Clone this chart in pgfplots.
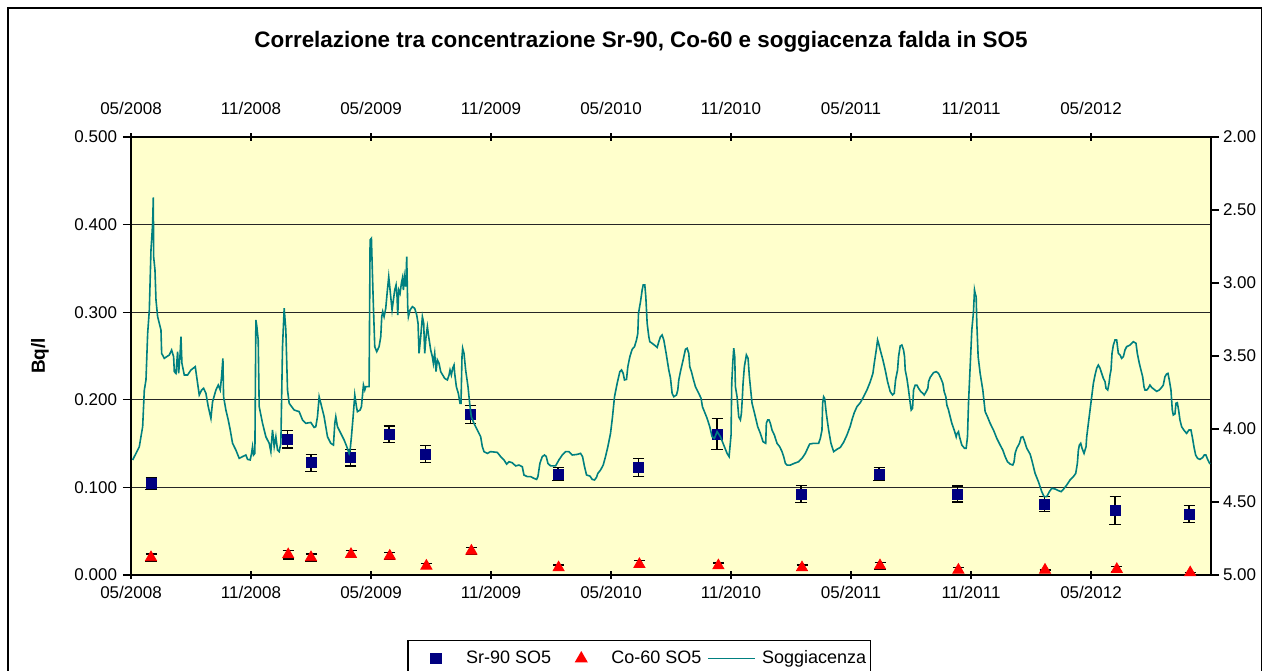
\documentclass[border=0pt]{standalone}
\usepackage{fontspec}
\setmainfont{Liberation Sans}
\usepackage{pgfplots}
\pgfplotsset{compat=1.18}
\usepackage{pgfplotstable}

\definecolor{bgyellow}{HTML}{FFFFCC}
\definecolor{srblue}{HTML}{000080}
\definecolor{cored}{HTML}{FF0000}
\definecolor{lineteal}{HTML}{008080}

% x = months since 05/2008
\pgfplotstableread{
x y e
1.00 0.1040 0.0068
7.83 0.1550 0.0100
9.00 0.1280 0.0095
10.99 0.1340 0.0095
12.90 0.1606 0.0095
14.73 0.1380 0.0095
16.97 0.1834 0.0105
21.35 0.1153 0.0076
25.39 0.1225 0.0105
29.30 0.1610 0.0180
33.50 0.0925 0.0100
37.40 0.1153 0.0076
41.34 0.0925 0.0091
45.69 0.0810 0.0086
49.20 0.0734 0.0160
52.90 0.0696 0.0095
}\srtable

\pgfplotstableread{
x y e
1.00 0.0200 0.0040
7.86 0.0233 0.0050
9.00 0.0200 0.0040
11.00 0.0236 0.0040
12.94 0.0217 0.0040
14.77 0.0103 0.0030
17.02 0.0274 0.0040
21.38 0.0084 0.0030
25.42 0.0122 0.0040
29.37 0.0107 0.0030
33.55 0.0084 0.0030
37.45 0.0107 0.0040
41.37 0.0057 0.0030
45.70 0.0057 0.0000
49.29 0.0065 0.0030
52.96 0.0027 0.0000
}\cotable

\pgfplotstableread{
x d
0.083 4.212
0.416 4.121
0.583 3.984
0.666 3.733
0.749 3.664
0.833 3.345
0.916 3.185
0.999 2.774
1.032 2.705
1.082 2.591
1.116 2.413
1.132 2.820
1.199 2.911
1.249 3.116
1.332 3.231
1.499 3.322
1.532 3.482
1.665 3.516
1.915 3.493
2.031 3.459
2.131 3.505
2.165 3.607
2.248 3.619
2.331 3.470
2.381 3.619
2.448 3.505
2.498 3.368
2.547 3.550
2.664 3.630
2.830 3.630
2.997 3.596
3.213 3.573
3.330 3.687
3.413 3.767
3.530 3.733
3.630 3.721
3.746 3.756
3.863 3.847
3.996 3.927
4.079 3.813
4.246 3.733
4.362 3.699
4.462 3.733
4.529 3.642
4.595 3.516
4.629 3.779
4.745 3.870
4.862 3.938
4.962 4.007
5.078 4.098
5.245 4.144
5.411 4.201
5.578 4.189
5.744 4.178
5.828 4.208
5.961 4.212
6.027 4.167
6.077 4.121
6.127 4.178
6.194 4.167
6.244 3.253
6.294 3.299
6.360 3.390
6.410 3.847
6.577 3.961
6.743 4.053
6.910 4.098
6.993 4.155
7.076 4.007
7.160 4.121
7.243 4.053
7.326 4.144
7.409 4.155
7.493 4.098
7.576 3.436
7.659 3.173
7.742 3.322
7.826 3.733
7.909 3.824
8.159 3.870
8.408 3.881
8.575 3.938
8.741 3.961
8.991 3.955
9.157 3.989
9.241 3.984
9.324 3.916
9.407 3.779
9.491 3.824
9.657 3.916
9.824 4.053
9.990 4.098
10.123 4.110
10.190 3.961
10.240 3.916
10.323 3.984
10.490 4.030
10.656 4.075
10.789 4.121
10.906 4.167
10.956 4.144
11.022 4.053
11.106 3.916
11.189 3.767
11.272 3.847
11.322 3.881
11.455 3.870
11.522 3.847
11.622 3.699
11.688 3.733
11.738 3.710
11.905 3.710
11.955 2.705
12.021 2.694
12.071 2.934
12.121 3.162
12.188 3.436
12.288 3.470
12.404 3.436
12.488 3.368
12.537 3.231
12.587 3.196
12.654 3.231
12.737 3.174
12.820 3.048
12.887 2.957
12.937 3.025
12.987 3.094
13.054 3.185
13.120 3.116
13.187 3.048
13.253 3.014
13.303 3.094
13.337 3.219
13.387 3.048
13.453 3.071
13.520 3.002
13.570 2.968
13.620 3.048
13.670 2.957
13.736 3.025
13.786 2.820
13.836 3.162
13.870 3.231
13.953 3.185
14.069 3.162
14.186 3.174
14.286 3.219
14.352 3.276
14.402 3.482
14.486 3.368
14.569 3.231
14.635 3.276
14.685 3.482
14.752 3.368
14.819 3.299
14.885 3.368
14.985 3.459
15.068 3.505
15.118 3.550
15.185 3.482
15.251 3.607
15.318 3.527
15.401 3.550
15.485 3.607
15.584 3.630
15.684 3.653
15.818 3.664
15.901 3.630
15.951 3.596
16.017 3.630
16.084 3.584
16.151 3.562
16.184 3.619
16.267 3.710
16.367 3.756
16.450 3.824
16.500 3.824
16.550 3.505
16.583 3.447
16.650 3.482
16.733 3.596
16.850 3.710
16.933 3.824
17.016 3.916
17.149 3.961
17.316 4.007
17.483 4.053
17.566 4.121
17.649 4.155
17.816 4.167
17.982 4.155
18.315 4.160
18.482 4.189
18.648 4.212
18.781 4.240
18.898 4.224
19.064 4.231
19.231 4.253
19.397 4.247
19.564 4.258
19.647 4.315
19.813 4.326
19.980 4.326
20.147 4.338
20.280 4.345
20.346 4.326
20.446 4.235
20.563 4.189
20.679 4.178
20.763 4.189
20.846 4.235
20.979 4.253
21.229 4.253
21.395 4.212
21.562 4.178
21.728 4.155
21.895 4.155
22.061 4.178
22.311 4.174
22.478 4.167
22.577 4.189
22.677 4.258
22.777 4.315
22.944 4.322
23.060 4.345
23.177 4.349
23.277 4.331
23.343 4.304
23.477 4.281
23.610 4.247
23.726 4.189
23.843 4.121
23.976 4.030
24.076 3.916
24.176 3.779
24.309 3.687
24.442 3.607
24.525 3.596
24.609 3.619
24.675 3.664
24.775 3.660
24.842 3.573
24.942 3.505
25.058 3.454
25.175 3.436
25.275 3.390
25.341 3.345
25.375 3.208
25.475 3.128
25.558 3.048
25.608 3.014
25.691 3.014
25.741 3.094
25.808 3.276
25.891 3.368
25.941 3.402
26.057 3.413
26.224 3.431
26.307 3.441
26.391 3.402
26.474 3.368
26.557 3.356
26.640 3.390
26.757 3.482
26.890 3.596
26.973 3.650
27.056 3.756
27.139 3.779
27.273 3.767
27.339 3.733
27.389 3.664
27.472 3.607
27.606 3.527
27.722 3.454
27.805 3.447
27.889 3.482
27.939 3.573
28.022 3.607
28.105 3.653
28.222 3.710
28.388 3.756
28.505 3.790
28.571 3.847
28.671 3.881
28.805 3.927
28.938 3.984
29.054 4.053
29.171 4.064
29.304 4.018
29.471 4.053
29.637 4.110
29.804 4.167
29.904 4.189
30.003 4.041
30.037 3.687
30.087 3.550
30.137 3.447
30.187 3.505
30.220 3.710
30.303 3.779
30.386 3.916
30.470 3.938
30.520 3.893
30.570 3.779
30.603 3.687
30.669 3.573
30.769 3.493
30.853 3.516
30.919 3.642
30.986 3.733
31.052 3.824
31.219 3.916
31.335 3.984
31.469 4.030
31.602 4.087
31.735 4.098
31.768 3.961
31.835 3.938
31.901 3.938
31.968 3.961
32.051 4.007
32.168 4.041
32.301 4.098
32.434 4.121
32.551 4.155
32.634 4.189
32.717 4.235
32.801 4.247
32.967 4.247
33.167 4.235
33.383 4.224
33.550 4.201
33.716 4.167
33.833 4.132
33.933 4.103
34.133 4.098
34.382 4.098
34.466 4.064
34.549 4.007
34.582 3.824
34.632 3.779
34.682 3.790
34.765 3.893
34.882 4.007
34.998 4.098
35.132 4.155
35.298 4.139
35.465 4.126
35.631 4.091
35.798 4.041
35.964 3.980
36.047 3.938
36.164 3.888
36.297 3.847
36.464 3.820
36.630 3.779
36.797 3.733
36.963 3.676
37.096 3.619
37.163 3.550
37.263 3.459
37.329 3.390
37.379 3.413
37.463 3.459
37.596 3.527
37.712 3.596
37.829 3.676
37.962 3.744
38.079 3.767
38.162 3.756
38.228 3.664
38.328 3.596
38.378 3.505
38.461 3.431
38.545 3.425
38.628 3.459
38.678 3.505
38.711 3.596
38.795 3.653
38.878 3.733
38.961 3.824
39.011 3.870
39.078 3.858
39.128 3.733
39.211 3.699
39.294 3.699
39.377 3.721
39.494 3.744
39.594 3.756
39.660 3.767
39.760 3.744
39.844 3.721
39.877 3.676
39.960 3.646
40.127 3.614
40.260 3.607
40.376 3.619
40.493 3.653
40.593 3.687
40.659 3.744
40.743 3.779
40.793 3.836
40.876 3.870
40.959 3.916
41.042 3.961
41.159 4.007
41.259 4.053
41.292 4.034
41.375 4.018
41.425 4.053
41.542 4.110
41.675 4.132
41.758 4.132
41.825 4.053
41.875 3.824
41.958 3.573
42.041 3.322
42.125 3.196
42.175 3.048
42.208 3.071
42.258 3.094
42.291 3.276
42.358 3.505
42.458 3.619
42.591 3.733
42.707 3.881
42.824 3.916
42.957 3.961
43.124 4.007
43.290 4.064
43.457 4.110
43.590 4.144
43.707 4.189
43.823 4.224
43.956 4.240
44.090 4.247
44.156 4.224
44.206 4.167
44.289 4.132
44.423 4.098
44.506 4.057
44.589 4.053
44.656 4.075
44.789 4.132
44.955 4.172
45.038 4.212
45.205 4.304
45.371 4.361
45.538 4.429
45.654 4.463
45.787 4.463
45.921 4.429
46.037 4.406
46.204 4.411
46.370 4.422
46.503 4.429
46.620 4.413
46.786 4.384
46.953 4.349
47.120 4.326
47.236 4.304
47.319 4.235
47.369 4.144
47.419 4.110
47.486 4.098
47.552 4.132
47.652 4.167
47.752 4.121
47.786 4.053
47.869 3.961
47.952 3.870
48.035 3.779
48.119 3.687
48.202 3.630
48.285 3.584
48.368 3.562
48.452 3.584
48.535 3.619
48.618 3.653
48.701 3.676
48.751 3.721
48.835 3.733
48.901 3.687
48.951 3.630
49.001 3.596
49.051 3.482
49.118 3.425
49.201 3.390
49.284 3.390
49.367 3.482
49.451 3.493
49.534 3.516
49.617 3.505
49.700 3.459
49.784 3.436
49.950 3.425
50.117 3.402
50.250 3.413
50.316 3.482
50.416 3.550
50.499 3.596
50.583 3.642
50.649 3.710
50.699 3.733
50.783 3.733
50.866 3.721
50.949 3.699
51.032 3.715
51.149 3.728
51.282 3.742
51.415 3.733
51.532 3.715
51.615 3.699
51.698 3.642
51.782 3.623
51.848 3.619
51.915 3.664
51.998 3.733
52.065 3.870
52.115 3.904
52.198 3.897
52.248 3.824
52.315 3.820
52.381 3.870
52.448 3.938
52.531 3.984
52.664 4.011
52.781 4.030
52.898 4.007
52.997 4.007
53.064 4.053
53.147 4.121
53.231 4.178
53.330 4.201
53.446 4.208
53.580 4.196
53.663 4.178
53.746 4.178
53.830 4.208
53.946 4.240
}\soggtable

\pgfplotsset{
  tickfont/.style={font=\fontsize{8.5bp}{10bp}\selectfont},
}

\begin{document}
\begin{tikzpicture}
\path[use as bounding box] (0,0) rectangle (631.5bp,335.5bp);
\fill[white] (0,0) rectangle (631.5bp,335.5bp);
\draw[black, line width=0.6bp] (4bp,-10bp) rectangle (630.6bp,331.5bp);

\begin{axis}[
  at={(65.5bp,48bp)}, anchor=south west,
  width=540bp, height=219bp, scale only axis,
  xmin=0, xmax=54, ymin=0, ymax=0.5,
  axis background/.style={fill=bgyellow},
  axis x line*=bottom, axis y line*=left,
  axis line style={black, line width=0.6bp},
  xtick={0,6,12,18,24,30,36,42,48},
  xticklabels={05/2008,11/2008,05/2009,11/2009,05/2010,11/2010,05/2011,11/2011,05/2012},
  ytick={0,0.1,0.2,0.3,0.4,0.5},
  ymajorgrids, grid style={black!85, line width=0.6bp},
  xtick align=center, ytick align=outside,
  major tick length=4bp,
  tick style={black, line width=0.6bp},
  tick label style={tickfont},
  xticklabel shift=0bp,
  yticklabel shift=-0.5bp,
  yticklabel style={/pgf/number format/.cd, fixed, fixed zerofill, precision=3, assume math mode=true},
  legend style={at={(axis description cs:0.4704,-0.1484)}, anchor=north,
    legend columns=3, draw=black, line width=0.6bp, fill=white,
    font=\fontsize{9bp}{11bp}\selectfont, inner xsep=2bp, inner ysep=3bp,
    nodes={inner xsep=0bp},
    /tikz/every odd column/.append style={column sep=3bp},
    /tikz/every even column/.append style={column sep=3bp}},
  legend cell align=left,
  clip=false,
]
\addplot[only marks, mark=square*, mark size=2.5bp, mark options={fill=srblue, draw=srblue},
  forget plot,
  error bars/.cd, y dir=both, y explicit,
  error bar style={black, line width=0.6bp},
  error mark options={black, mark size=2.75bp, line width=0.6bp, rotate=90}]
  table[x=x, y=y, y error=e] {\srtable};
\addplot[only marks, mark=triangle*, mark size=3.2bp, mark options={fill=cored, draw=cored},
  forget plot,
  error bars/.cd, y dir=both, y explicit,
  error bar style={black, line width=0.6bp},
  error mark options={black, mark size=2.75bp, line width=0.6bp, rotate=90}]
  table[x=x, y=y, y error=e] {\cotable};
\addlegendimage{legend image code/.code={%
  \path (0bp,0bp) (23.5bp,0bp);
  \fill[srblue] (9.25bp,-2.5bp) rectangle (14.25bp,2.5bp);}}
\addlegendentry{Sr-90 SO5}
\addlegendimage{legend image code/.code={%
  \path (0bp,0bp) (23.5bp,0bp);
  \draw[cored, fill=cored] plot[mark=triangle*, mark size=3.2bp] coordinates {(11.75bp,0bp)};}}
\addlegendentry{Co-60 SO5}
\addlegendimage{legend image code/.code={%
  \draw[lineteal, line width=0.8bp] (0bp,0bp) -- (23.5bp,0bp);}}
\addlegendentry{Soggiacenza}
\node[rotate=90, font=\bfseries\fontsize{9.5bp}{11bp}\selectfont] at (axis description cs:-0.0843,0.5) {Bq/l};
\end{axis}

\begin{axis}[
  at={(65.5bp,48bp)}, anchor=south west,
  width=540bp, height=219bp, scale only axis,
  xmin=0, xmax=54, ymin=2, ymax=5, y dir=reverse,
  axis x line*=top, axis y line*=right,
  axis line style={black, line width=0.6bp},
  xtick={0,6,12,18,24,30,36,42,48},
  xticklabels={05/2008,11/2008,05/2009,11/2009,05/2010,11/2010,05/2011,11/2011,05/2012},
  ytick={2,2.5,3,3.5,4,4.5,5},
  xtick align=center, ytick align=outside,
  major tick length=4bp,
  tick style={black, line width=0.6bp},
  tick label style={tickfont},
  xticklabel shift=5.5bp,
  yticklabel shift=-1.5bp,
  yticklabel style={/pgf/number format/.cd, fixed, fixed zerofill, precision=2, assume math mode=true},
]
\addplot[lineteal, line width=0.8bp, no marks] table[x=x, y=d] {\soggtable};
\end{axis}

\node[font=\bfseries\fontsize{11.2bp}{13bp}\selectfont] at (320.5bp,314.5bp)
  {Correlazione tra concentrazione Sr-90, Co-60 e soggiacenza falda in SO5};
\end{tikzpicture}
\end{document}
